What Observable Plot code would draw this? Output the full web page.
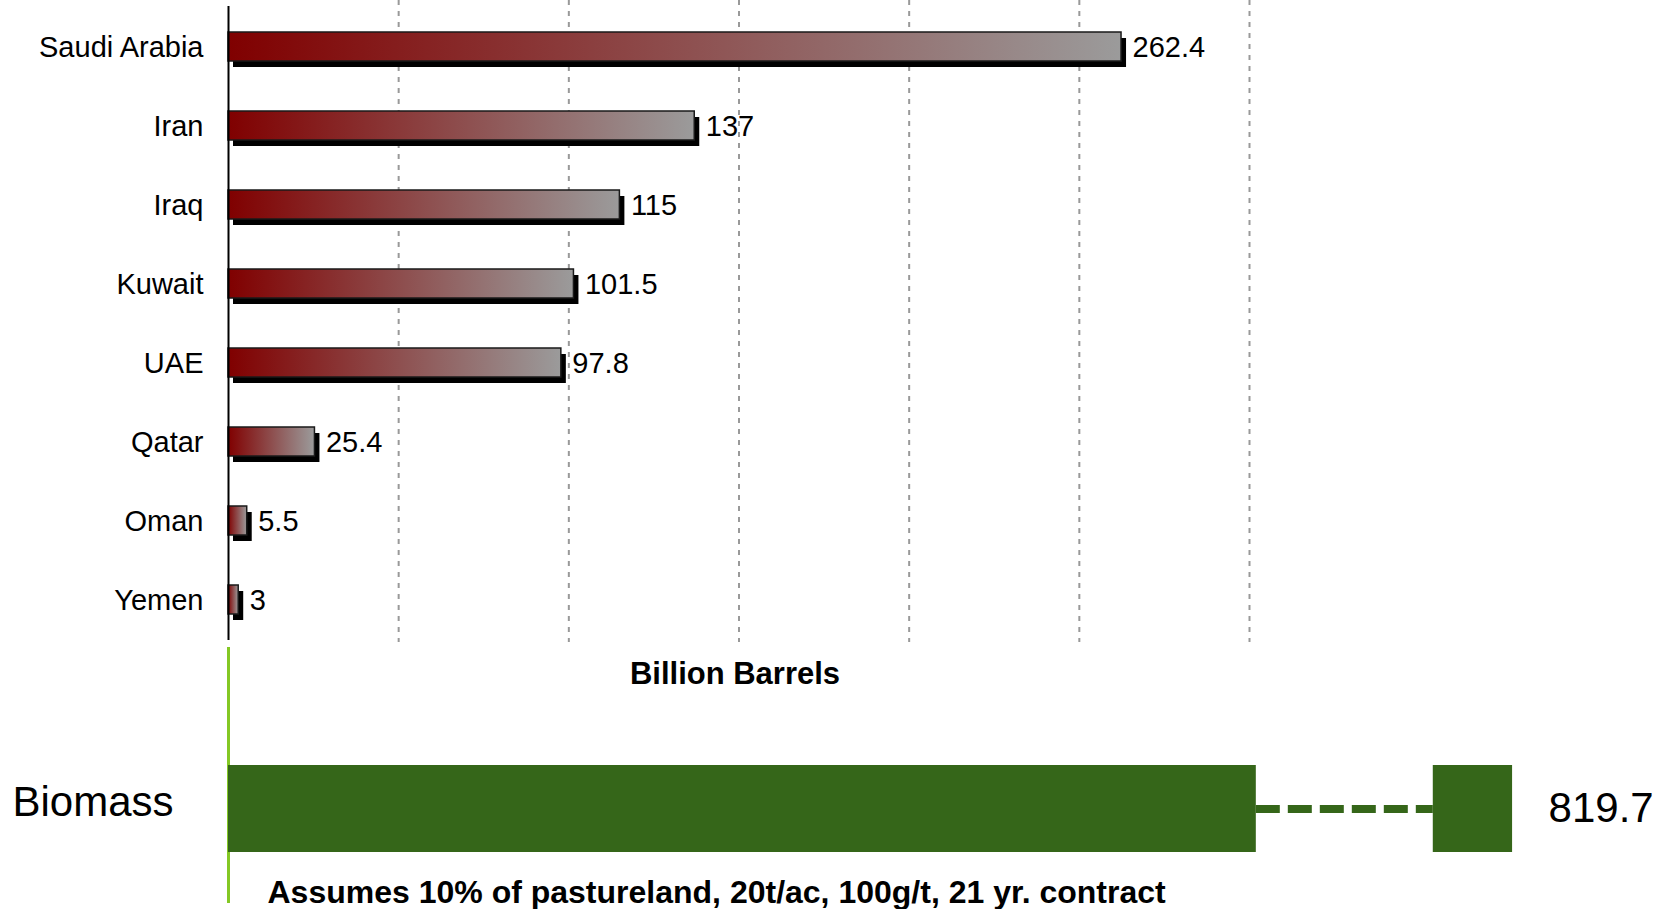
<!DOCTYPE html>
<html>
<head>
<meta charset="utf-8">
<script src="https://cdn.jsdelivr.net/npm/d3@7"></script>
<script src="https://cdn.jsdelivr.net/npm/@observablehq/plot@0.6"></script>
<style>
  body { margin: 0; background: #fff; }
  svg { display: block; }
</style>
</head>
<body>
<div id="chart"></div>
<script>
const countries = ["Saudi Arabia", "Iran", "Iraq", "Kuwait", "UAE", "Qatar", "Oman", "Yemen"];
const reserves = [262.4, 137, 115, 101.5, 97.8, 25.4, 5.5, 3];
const gridTicks = [50, 100, 150, 200, 250, 300];
const xLabel = "Billion Barrels";
const biomassCategory = "Biomass";
const biomassValue = 819.7;
// broken-axis drawing of the Biomass bar (in axis units): solid to the break, dashed gap, final block
const biomassBreak = [302, 354, 377.3];
const footnote = "Assumes 10% of pastureland, 20t/ac, 100g/t, 21 yr. contract";

const data = countries.map((c, i) => ({country: c, value: reserves[i]}));
const biomass = [{category: biomassCategory, value: biomassValue}];
const font = "'Liberation Sans', Arial, sans-serif";

const topPlot = Plot.plot({
  width: 1669,
  height: 647,
  marginTop: 6,
  marginBottom: 7,
  marginLeft: 228,
  marginRight: 420,
  style: {fontFamily: font, background: "white", color: "#000"},
  x: {domain: [0, 300], axis: null},
  y: {domain: countries, padding: 0},
  marks: [
    Plot.ruleX(gridTicks, {stroke: "#999", strokeWidth: 2, strokeDasharray: "5,6", insetTop: -6, insetBottom: -2}),
    Plot.barX(data, {x: "value", y: "country", fill: "black", dx: 5, dy: 6, insetTop: 25, insetBottom: 25}),
    Plot.barX(data, {x: "value", y: "country", fill: "url(#redgray)", stroke: "#1a1a1a", strokeWidth: 1.5, insetTop: 25, insetBottom: 25}),
    Plot.ruleX([0], {stroke: "black", strokeWidth: 2}),
    Plot.text(data, {x: "value", y: "country", text: d => d.value, textAnchor: "start", dx: 11, dy: 1, fontSize: 29}),
    Plot.axisY({tickSize: 0, tickPadding: 25, fontSize: 29, dy: 1, label: null})
  ]
});

const defs = d3.select(topPlot).append("defs");
const grad = defs.append("linearGradient").attr("id", "redgray").attr("x1", 0).attr("x2", 1).attr("y1", 0).attr("y2", 0);
grad.append("stop").attr("offset", 0).attr("stop-color", "#800000");
grad.append("stop").attr("offset", 1).attr("stop-color", "#9b9b9b");

const bottomPlot = Plot.plot({
  width: 1669,
  height: 262,
  marginTop: 0,
  marginBottom: 0,
  marginLeft: 228,
  marginRight: 420,
  style: {fontFamily: font, background: "white", color: "#000"},
  x: {domain: [0, 300], axis: null},
  y: {domain: [biomassCategory], range: [118, 205], padding: 0},
  marks: [
    Plot.text([xLabel], {text: d => d, frameAnchor: "top", dx: -4, dy: 36, lineAnchor: "bottom", fontSize: 31, fontWeight: "bold"}),
    Plot.ruleX([0], {stroke: "#84c824", strokeWidth: 3, insetBottom: 6}),
    Plot.barX(biomass, {x1: () => 0, x2: () => biomassBreak[0], y: "category", fill: "#356619"}),
    Plot.ruleY(biomass, {y: "category", x1: () => biomassBreak[0], x2: () => biomassBreak[1], stroke: "#356619", strokeWidth: 8, strokeDasharray: "24,8"}),
    Plot.barX(biomass, {x1: () => biomassBreak[1], x2: () => biomassBreak[2], y: "category", fill: "#356619"}),
    Plot.text(biomass, {x: () => biomassBreak[2], y: "category", text: d => d.value, textAnchor: "start", dx: 36, fontSize: 42}),
    Plot.axisY({tickSize: 0, tickPadding: 55, fontSize: 42, dy: -6, label: null}),
    Plot.text([footnote], {text: d => d, frameAnchor: "bottom-left", dx: 39, dy: -7, textAnchor: "start", lineAnchor: "bottom", fontSize: 32, fontWeight: "bold"})
  ]
});

const chart = document.getElementById("chart");
chart.appendChild(topPlot);
chart.appendChild(bottomPlot);
</script>
</body>
</html>
